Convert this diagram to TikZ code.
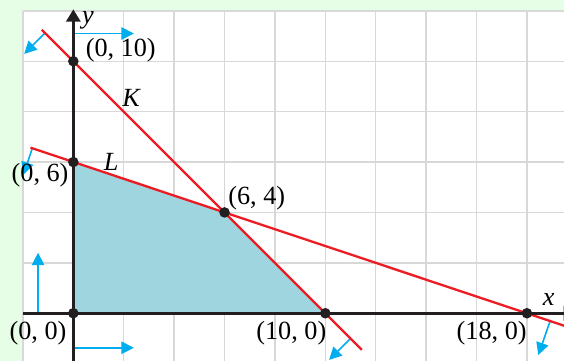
\documentclass[tikz,border=0pt]{standalone}
\usepackage{fontspec}
\setmainfont{Liberation Serif}
\usetikzlibrary{arrows.meta}
\definecolor{bggreen}{RGB}{230,253,230}
\definecolor{gridgray}{RGB}{216,216,216}
\definecolor{regionblue}{RGB}{158,213,222}
\definecolor{linered}{RGB}{237,28,36}
\definecolor{sidecyan}{RGB}{0,174,239}
\definecolor{axisblack}{RGB}{35,31,32}

\begin{document}
\begin{tikzpicture}[x=0.5cm,y=0.5cm,
  axis/.style={line width=1.6pt,axisblack,-{Triangle[length=7pt,width=8pt]}},
  bound/.style={line width=1.3pt,linered},
  side/.style={line width=0.9pt,sidecyan,-{Triangle[length=7pt,width=7pt]}},
  dot/.style={circle,fill=axisblack,inner sep=0pt,minimum size=2.1mm},
  lab/.style={font=\fontsize{14.8}{17}\selectfont,inner sep=0pt}]
  \useasboundingbox (-2.91,-1.89) rectangle (19.47,12.43);
  \clip (-2.91,-1.89) rectangle (19.47,12.43);
  % background and grid
  \fill[bggreen] (-2.91,-1.89) rectangle (19.47,12.43);
  \fill[white] (-2,-2) rectangle (20,12);
  \draw[gridgray,line width=0.75pt] (-2,-2) grid[step=2] (20,12);
  \coordinate (O) at (0,0); \coordinate (A) at (0,6); \coordinate (B) at (6,4);
  \coordinate (C) at (10,0); \coordinate (D) at (0,10); \coordinate (E) at (18,0);
  \fill[regionblue] (O) -- (A) -- (B) -- (C) -- cycle;
  % sides of the lines
  \draw[side] (-1.12,11.12) -- (-1.95,10.29);
  \draw[side] (0,11.1) -- (2.4,11.1);
  \draw[side] (-1.63,6.54) -- (-1.98,5.5);
  \draw[side] (-1.4,0) -- (-1.4,2.4);
  \draw[side] (0,-1.37) -- (2.4,-1.37);
  \draw[side] (11,-1) -- (10.15,-1.85);
  \draw[side] (18.92,-0.31) -- (18.45,-1.66);
  % lines K and L
  \draw[bound] (-1.25,11.25) -- (11.45,-1.45);
  \draw[bound] (-1.7,6.57) -- (20,-0.67);
  % axes
  \draw[axis] (-2,0) -- (19.95,0);
  \draw[axis] (0,-2) -- (0,12.06);
  \foreach \p in {O,A,B,C,D,E} \node[dot] at (\p) {};
  \node[lab] (ylab) at (0.58,11.64) {\textit{y}};
  \node[lab] (xlab) at (18.86,0.53) {\textit{x}};
  \node[lab] (klab) at (2.32,8.53) {\textit{K}};
  \node[lab] (llab) at (1.5,6.0) {\textit{L}};
  \node[lab,anchor=west] (dlab) at (0.48,10.45) {(0, 10)};
  \node[lab] (alab) at (-1.32,5.48) {(0, 6)};
  \node[lab] (blab) at (7.28,4.56) {(6, 4)};
  \node[lab] (olab) at (-1.4,-0.8) {(0, 0)};
  \node[lab] (clab) at (8.65,-0.8) {(10, 0)};
  \node[lab] (elab) at (16.6,-0.8) {(18, 0)};
\end{tikzpicture}
\end{document}
